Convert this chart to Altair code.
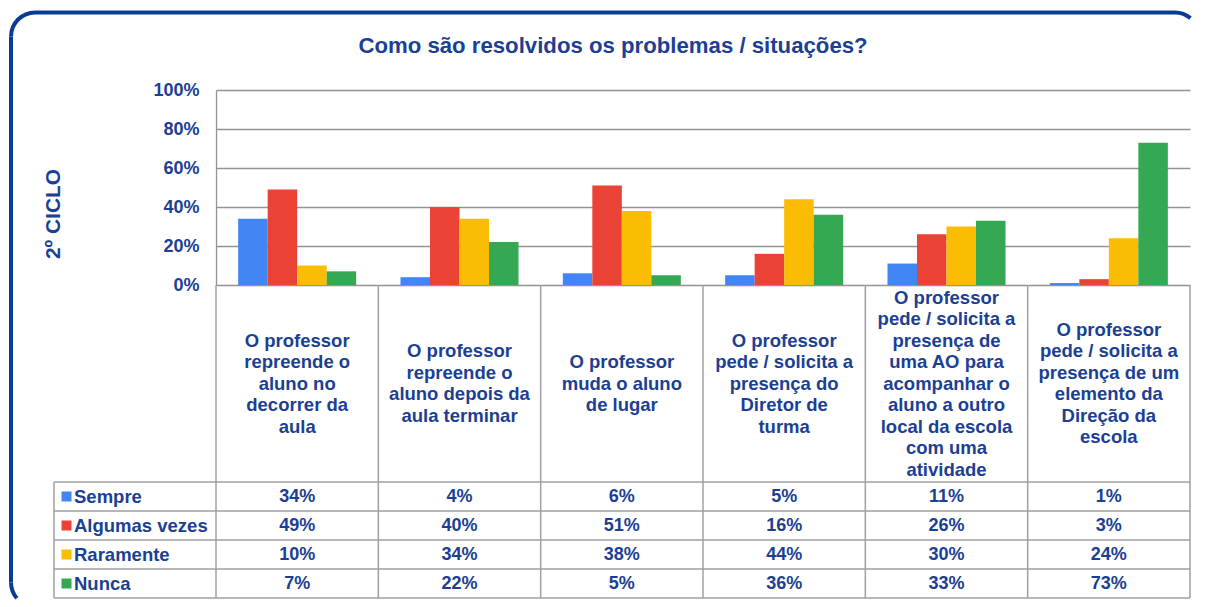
import altair as alt
import pandas as pd

# ---------------- data ----------------
categories = [
    "O professor repreende o aluno no decorrer da aula",
    "O professor repreende o aluno depois da aula terminar",
    "O professor muda o aluno de lugar",
    "O professor pede / solicita a presença do Diretor de turma",
    "O professor pede / solicita a presença de uma AO para acompanhar o aluno a outro local da escola com uma atividade",
    "O professor pede / solicita a presença de um elemento da Direção da escola",
]
category_lines = [
    ["O professor", "repreende o", "aluno no", "decorrer da", "aula"],
    ["O professor", "repreende o", "aluno depois da", "aula terminar"],
    ["O professor", "muda o aluno", "de lugar"],
    ["O professor", "pede / solicita a", "presença do", "Diretor de", "turma"],
    ["O professor", "pede / solicita a", "presença de", "uma AO para", "acompanhar o",
     "aluno a outro", "local da escola", "com uma", "atividade"],
    ["O professor", "pede / solicita a", "presença de um", "elemento da", "Direção da", "escola"],
]
series = ["Sempre", "Algumas vezes", "Raramente", "Nunca"]
sempre = [0.34, 0.04, 0.06, 0.05, 0.11, 0.01]
algumas_vezes = [0.49, 0.40, 0.51, 0.16, 0.26, 0.03]
raramente = [0.10, 0.34, 0.38, 0.44, 0.30, 0.24]
nunca = [0.07, 0.22, 0.05, 0.36, 0.33, 0.73]
colors = ["#4285F4", "#EA4335", "#FBBC04", "#34A853"]
y_ticks = [0, 0.2, 0.4, 0.6, 0.8, 1.0]
title_text = "Como são resolvidos os problemas / situações?"
y_title = "2º CICLO"

rows = []
for s, vals in zip(series, [sempre, algumas_vezes, raramente, nunca]):
    for c, v in zip(categories, vals):
        rows.append({"cat": c, "series": s, "value": v, "label": f"{round(v * 100)}%"})
df = pd.DataFrame(rows)
cat_df = pd.DataFrame({"cat": categories, "lines": category_lines})
ser_df = pd.DataFrame({"series": series})
one = pd.DataFrame({"k": [0]})

# ---------------- styling ----------------
W = 974
H1 = 195
H2 = 197
H3 = 116
LH = 21.5
TXT = "#1B3F94"
BORDER = "#0B3C95"
GRID = "#939393"
LINE = "#A0A0A0"
FONT = "Liberation Sans"
LEFT = -162

color_scale = alt.Scale(domain=series, range=colors)
x_bar = alt.Scale(domain=categories, paddingInner=0.273, paddingOuter=0.1365)
x_tab = alt.Scale(domain=categories, paddingInner=0, paddingOuter=0)
y_tab = alt.Scale(domain=series, paddingInner=0, paddingOuter=0)

# ---------------- frame (decorative rounded border) ----------------
frame_left = alt.Chart(one).mark_rect(color=BORDER, strokeWidth=0).encode(
    x=alt.value(-207), x2=alt.value(-203), y=alt.value(-53.5), y2=alt.value(492.5)
)
frame_top = alt.Chart(one).mark_rect(color=BORDER, strokeWidth=0).encode(
    x=alt.value(-181), x2=alt.value(959), y=alt.value(-79.5), y2=alt.value(-75.5)
)
corner_tl = alt.Chart(one).mark_arc(
    color=BORDER, innerRadius=22, outerRadius=26, theta=4.7124, theta2=6.2832
).encode(x=alt.value(-181), y=alt.value(-53.5))
corner_tr = alt.Chart(one).mark_arc(
    color=BORDER, innerRadius=22, outerRadius=26, theta=0, theta2=0.7
).encode(x=alt.value(959), y=alt.value(-53.5))
corner_bl = alt.Chart(one).mark_arc(
    color=BORDER, innerRadius=22, outerRadius=26, theta=4.0, theta2=4.7124
).encode(x=alt.value(-181), y=alt.value(492.5))

# ---------------- top: bars ----------------
title = alt.Chart(pd.DataFrame({"t": [title_text]})).mark_text(
    font=FONT, fontSize=22.2, fontWeight="bold", color=TXT, align="center", baseline="alphabetic"
).encode(text="t:N", x=alt.value(397), y=alt.value(-37.5))

bars = alt.Chart(df).mark_bar().encode(
    x=alt.X("cat:N", scale=x_bar, axis=None, sort=categories),
    xOffset=alt.XOffset("series:N", scale=alt.Scale(domain=series, paddingInner=0, paddingOuter=0)),
    y=alt.Y(
        "value:Q",
        scale=alt.Scale(domain=[0, 1], nice=False),
        axis=alt.Axis(
            values=y_ticks, format=".0%", grid=True, gridColor=GRID, gridWidth=1.3,
            domainColor=GRID, domainWidth=1.3, ticks=False, tickSize=0, labelPadding=17,
            labelFont=FONT, labelFontSize=18, labelFontWeight="bold", labelColor=TXT,
            title=y_title, titleFont=FONT, titleFontSize=20.9, titleFontWeight="bold",
            titleColor=TXT, titleAngle=270, titleX=-163, titleY=123.5,
            titleAlign="center", titleBaseline="middle",
        ),
    ),
    color=alt.Color("series:N", scale=color_scale, legend=None),
)

top = alt.layer(
    frame_left, frame_top, corner_tl, corner_tr, corner_bl, title, bars
).properties(width=W, height=H1)

# ---------------- middle: category labels ----------------
cat_text = alt.Chart(cat_df).transform_calculate(
    ypos=f"{H2 / 2} - (length(datum.lines) - 1) * {LH / 2}"
).mark_text(
    font=FONT, fontSize=18.5, fontWeight="bold", color=TXT, align="center",
    baseline="middle", lineHeight=LH,
).encode(
    x=alt.X("cat:N", scale=x_tab, axis=None),
    y=alt.Y("ypos:Q", scale=None),
    text="lines",
)

cat_vrules = alt.Chart(cat_df).mark_rule(color=LINE, strokeWidth=1.5).encode(
    x=alt.X("cat:N", scale=x_tab, axis=None, bandPosition=0), y=alt.value(0), y2=alt.value(H2)
)
cat_right = alt.Chart(one).mark_rule(color=LINE, strokeWidth=1.5).encode(
    x=alt.value(W), y=alt.value(0), y2=alt.value(H2)
)
middle = alt.layer(cat_vrules, cat_right, cat_text).properties(width=W, height=H2)

# ---------------- bottom: data table ----------------
row_rules = alt.Chart(ser_df).mark_rule(color=LINE, strokeWidth=1.5).encode(
    y=alt.Y("series:N", scale=y_tab, axis=None, bandPosition=0),
    x=alt.value(LEFT), x2=alt.value(W),
)
bottom_rule = alt.Chart(one).mark_rule(color=LINE, strokeWidth=1.5).encode(
    y=alt.value(H3), x=alt.value(LEFT), x2=alt.value(W)
)
col_rules = alt.Chart(cat_df).mark_rule(color=LINE, strokeWidth=1.5).encode(
    x=alt.X("cat:N", scale=x_tab, axis=None, bandPosition=0), y=alt.value(0), y2=alt.value(H3)
)
edge_rules = alt.Chart(pd.DataFrame({"xe": [LEFT, W]})).mark_rule(color=LINE, strokeWidth=1.5).encode(
    x=alt.X("xe:Q", scale=None), y=alt.value(0), y2=alt.value(H3)
)
cells = alt.Chart(df).mark_text(
    font=FONT, fontSize=18, fontWeight="bold", color=TXT, align="center", baseline="middle"
).encode(
    x=alt.X("cat:N", scale=x_tab, axis=None),
    y=alt.Y("series:N", scale=y_tab, axis=None),
    text="label:N",
)
swatches = alt.Chart(ser_df).mark_square(size=100, opacity=1, strokeWidth=0).encode(
    x=alt.value(-149.5),
    y=alt.Y("series:N", scale=y_tab, axis=None),
    color=alt.Color("series:N", scale=color_scale, legend=None),
)
leg_text = alt.Chart(ser_df).mark_text(
    font=FONT, fontSize=18.5, fontWeight="bold", color=TXT, align="left", baseline="middle"
).encode(x=alt.value(-142), y=alt.Y("series:N", scale=y_tab, axis=None), text="series:N")

bottom = alt.layer(row_rules, bottom_rule, col_rules, edge_rules, cells, swatches, leg_text).properties(
    width=W, height=H3
)

chart = (
    alt.vconcat(top, middle, bottom, spacing=0, bounds="flush")
    .properties(padding={"left": 0, "top": 2, "right": 0, "bottom": 0}, background="white")
    .configure_view(stroke="transparent")
)

chart.save("out.html", embed_options={"renderer": "svg", "actions": False})
